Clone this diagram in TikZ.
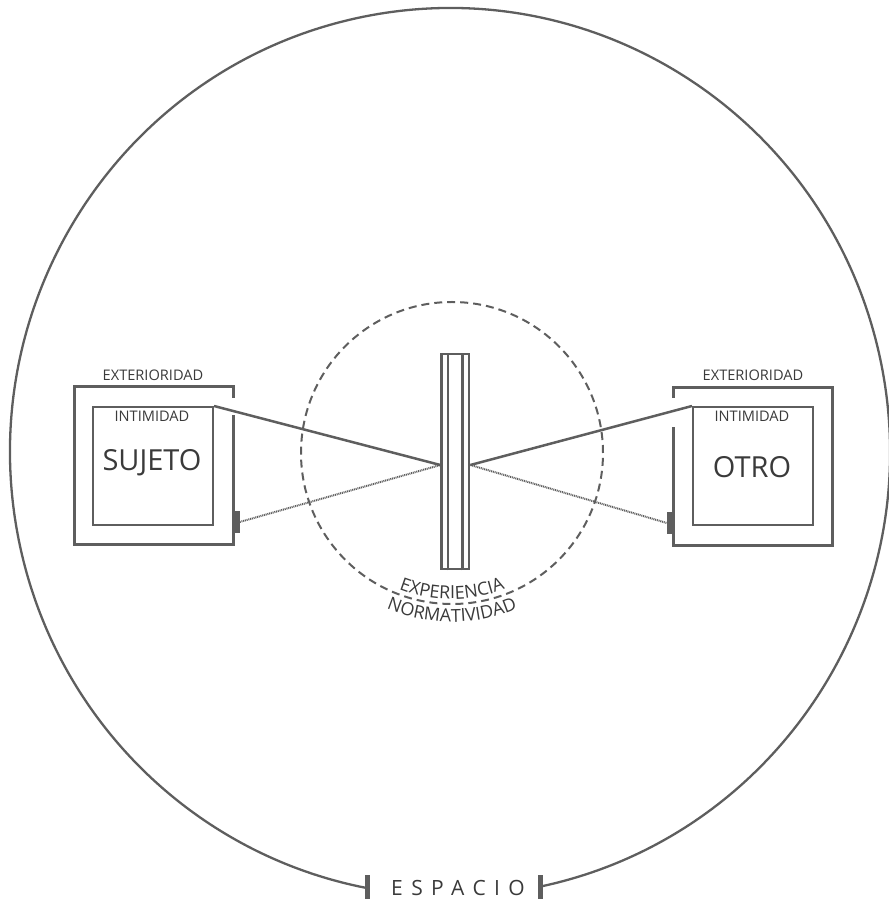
\documentclass[tikz,border=0pt]{standalone}
\usepackage{fontspec}
\setmainfont{Open Sans}
\usetikzlibrary{decorations.text}
\definecolor{ln}{HTML}{5E5E5E}
\definecolor{tx}{HTML}{3A3A3A}
\begin{document}
\begin{tikzpicture}[x=1pt,y=1pt,
  outerbox/.style={draw=ln, line width=3pt, minimum width=159pt, minimum height=158pt, inner sep=0pt},
  innerbox/.style={draw=ln, line width=2pt, minimum width=120pt, minimum height=118pt, inner sep=0pt},
  plug/.style={fill=ln, minimum width=6pt, minimum height=22pt, inner sep=0pt},
  bar/.style={fill=ln, minimum width=5pt, minimum height=24pt, inner sep=0pt},
  solidlink/.style={draw=ln, line width=2.5pt},
  dotlink/.style={draw=ln, line width=2pt, dash pattern=on 1pt off 0.8pt},
  small/.style={text=tx, font=\fontsize{14.6}{14.6}\selectfont, inner sep=0pt},
  big/.style={text=tx, font=\fontsize{29}{29}\selectfont, inner sep=0pt}]
\useasboundingbox (0,0) rectangle (889,900);
% space
\draw[ln, line width=2.3pt] (543,14) arc[start angle=-77.8, end angle=259, x radius=440, y radius=444];
\node[bar] (barL) at (367.5,13) {};
\node[bar] (barR) at (540.5,13) {};
\node[text=tx, anchor=base, inner sep=0pt, font=\fontsize{21}{21}\selectfont\addfontfeature{LetterSpace=40}] (esp) at (458,5) {ESPACIO};
% dashed circle
\draw[ln, line width=2pt, dash pattern=on 8pt off 5pt] (452,447) circle[radius=151];
\path[decorate, decoration={text along path, text align=center,
  text={|\fontsize{18}{18}\selectfont\color{tx}|EXPERIENCIA}}]
  (452,447) ++(230:146) arc[start angle=230, end angle=310, radius=146];
\path[decorate, decoration={text along path, text align=center,
  text={|\fontsize{18}{18}\selectfont\color{tx}|NORMATIVIDAD}}]
  (452,447) ++(225:169) arc[start angle=225, end angle=315, radius=169];
% boxes
\node[outerbox] (extL) at (153.5,434) {};
\node[innerbox] (intL) at (153,434) {};
\node[outerbox] (extR) at (753,433.5) {};
\node[innerbox] (intR) at (753,434) {};
\fill[white] (230,485) rectangle (236,502);
\fill[white] (670,473) rectangle (676,502);
\node[small] at (153,525) {EXTERIORIDAD};
\node[small] at (753,525) {EXTERIORIDAD};
\node[small] at (152,484) {INTIMIDAD};
\node[small] at (752,484) {INTIMIDAD};
\node[big] at (152,437) {SUJETO};
\node[big] at (752,433) {OTRO};
\node[plug] (plL) at (236.5,378) {};
\node[plug] (plR) at (670,377) {};
% barrier
\node[draw=ln, line width=2.8pt, minimum width=27.3pt, minimum height=215pt, inner sep=0pt] (wall) at (455.35,438.5) {};
\draw[ln, line width=2.8pt] ([xshift=7.6pt]wall.south west) -- ([xshift=7.6pt]wall.north west);
\draw[ln, line width=2.8pt] ([xshift=-8.3pt]wall.south east) -- ([xshift=-8.3pt]wall.north east);
\coordinate (wl) at ([yshift=-3.5pt]wall.west);
\coordinate (wr) at ([yshift=-3.5pt]wall.east);
% links
\draw[solidlink] (intL.north east) -- (wl);
\draw[solidlink] (wr) -- (intR.north west);
\draw[dotlink] (plL.east) -- (wl);
\draw[dotlink] (wr) -- (plR.west);
\end{tikzpicture}
\end{document}
